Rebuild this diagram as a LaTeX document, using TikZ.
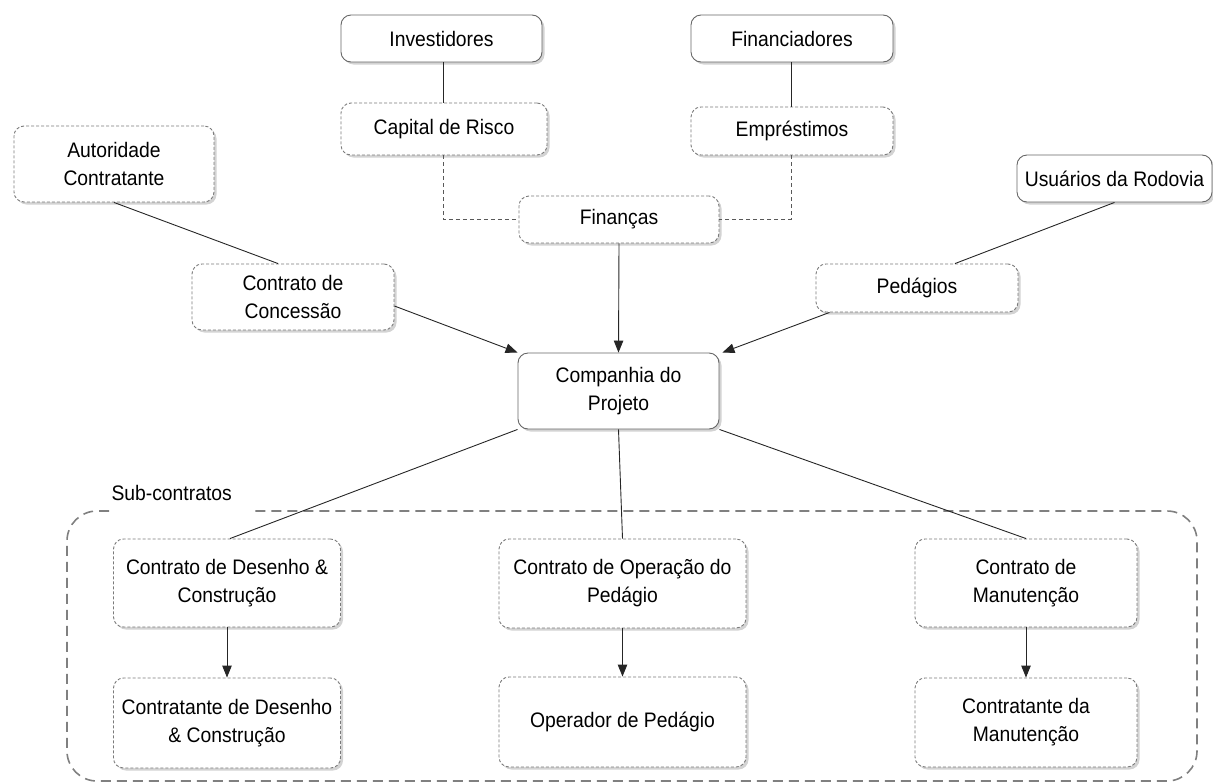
\documentclass[tikz,border=0pt]{standalone}
\usepackage{fontspec}
\setmainfont[FakeStretch=0.92]{Liberation Sans}
\usepackage{tikz}
\usetikzlibrary{arrows.meta,shadows}
\usetikzlibrary{calc,positioning}

\begin{document}
\begin{tikzpicture}[x=1pt,y=-1pt,thin,auto]
    \tikzstyle{box}=[rectangle, rounded corners=10pt, align=center, fill=white,
        font=\fontsize{21}{28}\selectfont, inner sep=0pt,
        drop shadow={shadow xshift=2.5pt, shadow yshift=-2.5pt, opacity=0.35}]
    \tikzstyle{party}=[box, draw=black!60, line width=0.9pt]
    \tikzstyle{deal}=[box, draw=black!52, line width=0.9pt, dash pattern=on 3pt off 2pt]
    \tikzstyle{link}=[draw=black!85, line width=0.9pt]
    \tikzstyle{flow}=[link, -{Triangle[length=12pt,width=9.5pt]}]
    \tikzstyle{money}=[draw=black!65, line width=0.9pt, dash pattern=on 4pt off 3pt]

    \useasboundingbox (0,0) rectangle (1213,782);

    % sub-contract frame
    \draw[black!50, line width=1.6pt, dash pattern=on 10pt off 6pt, rounded corners=30pt]
        (109,511) -- (67,511) -- (67,781) -- (1197,781) -- (1197,511) -- (250,511);
    \node (sublabel) [anchor=west, font=\fontsize{21}{28}\selectfont] at (108,493) {Sub-contratos};

    \node[party, minimum width=201pt, minimum height=47pt] (inv)  at (441.5,38.5) {Investidores};
    \node[party, minimum width=202pt, minimum height=47pt] (fin)  at (792,38.5)   {Financiadores};
    \node[deal,  minimum width=206pt, minimum height=52pt] (cap)  at (444,129)    {Capital de Risco};
    \node[deal,  minimum width=202pt, minimum height=48pt] (emp)  at (792,131)    {Empréstimos};
    \node[deal,  minimum width=200pt, minimum height=47pt] (fins) at (619,219.5)  {Finanças};
    \node[deal,  minimum width=200pt, minimum height=76pt] (aut)  at (114,164)    {Autoridade\\Contratante};
    \node[deal,  minimum width=202pt, minimum height=66pt] (con)  at (293,297)    {Contrato de\\Concessão};
    \node[party, minimum width=195pt, minimum height=47pt] (usu)  at (1114.5,178.5) {Usuários da Rodovia};
    \node[deal,  minimum width=202pt, minimum height=48pt] (ped)  at (917,288)    {Pedágios};
    \node[party, minimum width=201pt, minimum height=76pt] (comp) at (618.5,391)  {Companhia do\\Projeto};

    \node[deal, minimum width=227pt, minimum height=88pt] (cdc) at (227,583)    {Contrato de Desenho \&\\Construção};
    \node[deal, minimum width=247pt, minimum height=89pt] (cop) at (622.5,583.5) {Contrato de Operação do\\Pedágio};
    \node[deal, minimum width=222pt, minimum height=88pt] (cma) at (1026,583)   {Contrato de\\Manutenção};
    \node[deal, minimum width=227pt, minimum height=90pt] (tdc) at (227,723)    {Contratante de Desenho\\\& Construção};
    \node[deal, minimum width=247pt, minimum height=90pt] (top) at (622.5,722)  {Operador de Pedágio};
    \node[deal, minimum width=222pt, minimum height=89pt] (tma) at (1026,722.5) {Contratante da\\Manutenção};

    % finance side
    \path[link] ([xshift=1.5pt]inv.south) -- ([xshift=1.5pt]inv.south |- cap.north);
    \path[link] ([xshift=-1pt]fin.south) -- ([xshift=-1pt]fin.south |- emp.north);
    \path[money] ([xshift=-1pt]cap.south) |- (fins.west);
    \path[money] ([xshift=-1pt]emp.south) |- (fins.east);
    \path[flow] (fins.south) -- (comp.north);

    % concession and tolls
    \path[link] (aut.south) -- ([xshift=-15pt]con.north);
    \path[flow] ([yshift=-9pt]con.east) -- (comp.north west);
    \path[link] (usu.south) -- ([xshift=38pt]ped.north);
    \path[flow] ([xshift=14pt]ped.south west) -- ([xshift=3pt]comp.north east);

    % sub-contracts
    \path[link] (comp.south west) -- ([xshift=3pt]cdc.north);
    \path[link] (comp.south) -- (cop.north);
    \path[link] (comp.south east) -- (cma.north);
    \path[flow] (cdc) -- (tdc);
    \path[flow] (cop) -- (top);
    \path[flow] (cma) -- (tma);

\end{tikzpicture}
\end{document}
